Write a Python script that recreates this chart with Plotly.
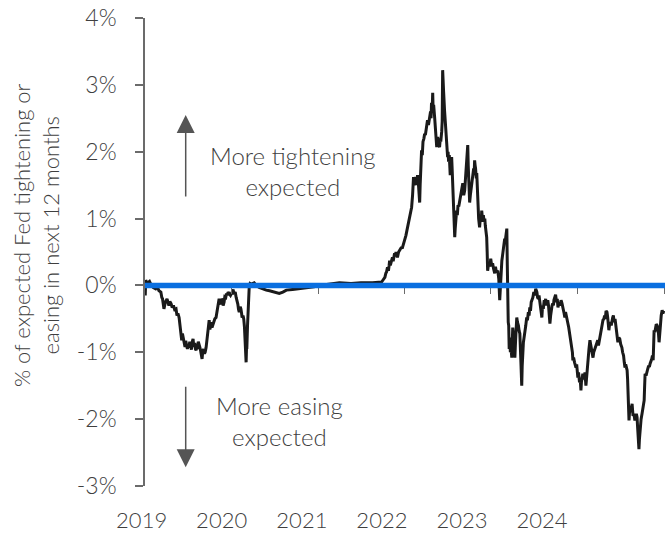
import plotly.graph_objects as go

# Market-implied Fed policy path: % of tightening (+) / easing (-) priced over the next 12 months
path_2019 = [
    ("2019-01-02", -0.15), ("2019-01-04", 0.08), ("2019-01-10", 0.03), ("2019-01-20", 0.06), ("2019-01-28", 0.00),
    ("2019-02-05", -0.03), ("2019-02-15", -0.05), ("2019-02-22", -0.02), ("2019-03-01", -0.08), ("2019-03-09", -0.10),
    ("2019-03-13", -0.18), ("2019-03-16", -0.20), ("2019-03-22", -0.35), ("2019-03-25", -0.30), ("2019-03-28", -0.25),
    ("2019-04-04", -0.20), ("2019-04-08", -0.26), ("2019-04-12", -0.30), ("2019-04-16", -0.24), ("2019-04-21", -0.27),
    ("2019-04-26", -0.33), ("2019-05-01", -0.30), ("2019-05-06", -0.36), ("2019-05-12", -0.35), ("2019-05-16", -0.45),
    ("2019-05-20", -0.42), ("2019-05-25", -0.48), ("2019-05-29", -0.60), ("2019-06-02", -0.78), ("2019-06-05", -0.82),
    ("2019-06-08", -0.72), ("2019-06-12", -0.80), ("2019-06-15", -0.87), ("2019-06-19", -0.92), ("2019-06-22", -0.83),
    ("2019-06-25", -0.90), ("2019-06-29", -0.95), ("2019-07-02", -0.88), ("2019-07-06", -0.93), ("2019-07-09", -0.84),
    ("2019-07-12", -0.88), ("2019-07-16", -0.96), ("2019-07-19", -0.85), ("2019-07-23", -0.80), ("2019-07-26", -0.92),
    ("2019-07-30", -0.86), ("2019-08-02", -0.95), ("2019-08-05", -0.97), ("2019-08-08", -0.90), ("2019-08-10", -0.95),
    ("2019-08-14", -0.84), ("2019-08-17", -0.87), ("2019-08-21", -0.93), ("2019-08-24", -0.98), ("2019-08-27", -1.03),
    ("2019-08-30", -1.10), ("2019-09-02", -0.98), ("2019-09-05", -0.95), ("2019-09-09", -1.02), ("2019-09-12", -1.00),
    ("2019-09-16", -0.93), ("2019-09-20", -0.78), ("2019-09-23", -0.66), ("2019-09-25", -0.60), ("2019-09-29", -0.52),
    ("2019-10-02", -0.66), ("2019-10-05", -0.60), ("2019-10-08", -0.55), ("2019-10-11", -0.63), ("2019-10-15", -0.58),
    ("2019-10-18", -0.55), ("2019-10-23", -0.50), ("2019-10-28", -0.48), ("2019-11-01", -0.38), ("2019-11-04", -0.32),
    ("2019-11-07", -0.25), ("2019-11-10", -0.20), ("2019-11-14", -0.26), ("2019-11-18", -0.28), ("2019-11-21", -0.20),
    ("2019-11-24", -0.22), ("2019-11-27", -0.30), ("2019-12-01", -0.25), ("2019-12-04", -0.17), ("2019-12-08", -0.18),
    ("2019-12-11", -0.12), ("2019-12-14", -0.15), ("2019-12-18", -0.10), ("2019-12-22", -0.12), ("2019-12-28", -0.15),
]

path_2020 = [
    ("2020-01-04", -0.10), ("2020-01-08", -0.06), ("2020-01-12", -0.13), ("2020-01-17", -0.10), ("2020-01-21", -0.18),
    ("2020-01-25", -0.22), ("2020-01-28", -0.28), ("2020-01-31", -0.36), ("2020-02-03", -0.40), ("2020-02-07", -0.32),
    ("2020-02-10", -0.35), ("2020-02-13", -0.42), ("2020-02-15", -0.48), ("2020-02-19", -0.45), ("2020-02-22", -0.50),
    ("2020-02-25", -0.62), ("2020-02-27", -0.75), ("2020-03-01", -0.95), ("2020-03-03", -1.15), ("2020-03-05", -0.90),
    ("2020-03-06", -0.95), ("2020-03-09", -0.60), ("2020-03-12", -0.30), ("2020-03-16", -0.03), ("2020-03-20", 0.03),
    ("2020-03-25", 0.02), ("2020-04-06", 0.04), ("2020-04-15", 0.00), ("2020-04-27", -0.03), ("2020-05-10", -0.05),
    ("2020-05-27", -0.07), ("2020-06-10", -0.08), ("2020-06-21", -0.09), ("2020-07-05", -0.11), ("2020-07-21", -0.12),
    ("2020-08-05", -0.10), ("2020-08-20", -0.07), ("2020-09-15", -0.06), ("2020-10-14", -0.05), ("2020-11-12", -0.03),
    ("2020-12-15", -0.02),
]

path_2021 = [
    ("2021-01-06", 0.00), ("2021-02-15", 0.02), ("2021-04-01", 0.04), ("2021-05-20", 0.03), ("2021-07-01", 0.04),
    ("2021-08-19", 0.04), ("2021-09-17", 0.04), ("2021-09-26", 0.05), ("2021-09-30", 0.07), ("2021-10-05", 0.10),
    ("2021-10-10", 0.12), ("2021-10-14", 0.18), ("2021-10-17", 0.20), ("2021-10-21", 0.27), ("2021-10-25", 0.22),
    ("2021-10-28", 0.30), ("2021-10-30", 0.37), ("2021-11-02", 0.30), ("2021-11-05", 0.33), ("2021-11-08", 0.38),
    ("2021-11-11", 0.42), ("2021-11-14", 0.36), ("2021-11-16", 0.40), ("2021-11-20", 0.48), ("2021-11-23", 0.44),
    ("2021-11-26", 0.50), ("2021-11-29", 0.45), ("2021-12-02", 0.42), ("2021-12-07", 0.50), ("2021-12-11", 0.52),
    ("2021-12-15", 0.55), ("2021-12-19", 0.57), ("2021-12-22", 0.55), ("2021-12-26", 0.60),
]

path_2022 = [
    ("2022-01-01", 0.64), ("2022-01-04", 0.70), ("2022-01-07", 0.75), ("2022-01-11", 0.82), ("2022-01-14", 0.87),
    ("2022-01-18", 0.95), ("2022-01-22", 1.00), ("2022-01-26", 1.08), ("2022-01-31", 1.17), ("2022-02-04", 1.35),
    ("2022-02-08", 1.62), ("2022-02-11", 1.50), ("2022-02-14", 1.55), ("2022-02-17", 1.62), ("2022-02-21", 1.50),
    ("2022-02-25", 1.65), ("2022-03-01", 1.50), ("2022-03-03", 1.40), ("2022-03-06", 1.24), ("2022-03-08", 1.50),
    ("2022-03-10", 1.70), ("2022-03-14", 2.02), ("2022-03-17", 1.95), ("2022-03-20", 2.15), ("2022-03-24", 2.20),
    ("2022-03-27", 2.27), ("2022-03-30", 2.25), ("2022-04-02", 2.35), ("2022-04-05", 2.42), ("2022-04-08", 2.47),
    ("2022-04-12", 2.40), ("2022-04-15", 2.50), ("2022-04-17", 2.55), ("2022-04-21", 2.60), ("2022-04-23", 2.50),
    ("2022-04-25", 2.73), ("2022-04-28", 2.65), ("2022-04-30", 2.88), ("2022-05-02", 2.60), ("2022-05-04", 2.70),
    ("2022-05-08", 2.52), ("2022-05-11", 2.40), ("2022-05-13", 2.30), ("2022-05-17", 2.07), ("2022-05-19", 2.15),
    ("2022-05-21", 2.22), ("2022-05-25", 2.10), ("2022-05-29", 2.07), ("2022-06-01", 2.20), ("2022-06-03", 2.15),
    ("2022-06-07", 2.30), ("2022-06-09", 2.45), ("2022-06-11", 3.22), ("2022-06-13", 2.95), ("2022-06-15", 2.90),
    ("2022-06-19", 2.62), ("2022-06-21", 2.50), ("2022-06-24", 2.35), ("2022-06-28", 2.17), ("2022-07-02", 1.92),
    ("2022-07-04", 2.00), ("2022-07-06", 1.85), ("2022-07-09", 1.95), ("2022-07-11", 1.77), ("2022-07-13", 1.65),
    ("2022-07-15", 1.85), ("2022-07-19", 1.92), ("2022-07-21", 1.75), ("2022-07-23", 1.57), ("2022-07-27", 1.20),
    ("2022-07-30", 0.90), ("2022-08-01", 0.72), ("2022-08-03", 0.85), ("2022-08-05", 0.95), ("2022-08-09", 1.12),
    ("2022-08-12", 1.05), ("2022-08-15", 1.20), ("2022-08-18", 1.18), ("2022-08-22", 1.27), ("2022-08-25", 1.35),
    ("2022-08-28", 1.40), ("2022-09-01", 1.48), ("2022-09-04", 1.53), ("2022-09-06", 1.40), ("2022-09-08", 1.35),
    ("2022-09-12", 1.42), ("2022-09-15", 1.55), ("2022-09-18", 1.70), ("2022-09-22", 1.85), ("2022-09-25", 2.10),
    ("2022-09-27", 1.80), ("2022-09-29", 1.60), ("2022-10-03", 1.24), ("2022-10-06", 1.35), ("2022-10-10", 1.45),
    ("2022-10-13", 1.50), ("2022-10-16", 1.57), ("2022-10-18", 1.70), ("2022-10-20", 1.75), ("2022-10-22", 1.65),
    ("2022-10-24", 1.87), ("2022-10-26", 1.80), ("2022-10-28", 1.75), ("2022-10-31", 1.60), ("2022-11-02", 1.68),
    ("2022-11-04", 1.45), ("2022-11-06", 1.27), ("2022-11-08", 1.10), ("2022-11-10", 1.00), ("2022-11-14", 0.87),
    ("2022-11-16", 0.98), ("2022-11-18", 1.05), ("2022-11-21", 0.95), ("2022-11-23", 1.12), ("2022-11-26", 1.00),
    ("2022-11-30", 1.05), ("2022-12-03", 0.95), ("2022-12-06", 1.00), ("2022-12-08", 0.90), ("2022-12-10", 0.85),
    ("2022-12-12", 0.80), ("2022-12-14", 0.72), ("2022-12-16", 0.50), ("2022-12-18", 0.22), ("2022-12-21", 0.30),
    ("2022-12-24", 0.35), ("2022-12-28", 0.28), ("2022-12-31", 0.40),
]

path_2023 = [
    ("2023-01-04", 0.30), ("2023-01-08", 0.33), ("2023-01-12", 0.25), ("2023-01-17", 0.18), ("2023-01-20", 0.28),
    ("2023-01-24", 0.20), ("2023-01-30", 0.22), ("2023-02-03", 0.10), ("2023-02-07", -0.22), ("2023-02-10", 0.05),
    ("2023-02-12", 0.15), ("2023-02-16", 0.37), ("2023-02-19", 0.45), ("2023-02-22", 0.55), ("2023-02-25", 0.62),
    ("2023-02-28", 0.70), ("2023-03-02", 0.65), ("2023-03-04", 0.75), ("2023-03-07", 0.80), ("2023-03-09", 0.85),
    ("2023-03-11", 0.30), ("2023-03-13", -0.37), ("2023-03-15", -0.55), ("2023-03-17", -0.60), ("2023-03-19", -0.95),
    ("2023-03-21", -0.78), ("2023-03-24", -1.00), ("2023-03-26", -0.90), ("2023-03-30", -1.08), ("2023-04-01", -0.80),
    ("2023-04-03", -0.63), ("2023-04-06", -0.75), ("2023-04-08", -0.85), ("2023-04-10", -0.70), ("2023-04-12", -1.08),
    ("2023-04-14", -0.90), ("2023-04-16", -0.75), ("2023-04-20", -0.48), ("2023-04-23", -0.55), ("2023-04-27", -0.60),
    ("2023-04-30", -0.68), ("2023-05-03", -0.72), ("2023-05-07", -1.10), ("2023-05-11", -1.50), ("2023-05-13", -1.20),
    ("2023-05-15", -0.93), ("2023-05-18", -0.85), ("2023-05-20", -0.80), ("2023-05-24", -0.72), ("2023-05-28", -0.60),
    ("2023-06-01", -0.48), ("2023-06-04", -0.52), ("2023-06-08", -0.40), ("2023-06-11", -0.45), ("2023-06-14", -0.33),
    ("2023-06-17", -0.38), ("2023-06-20", -0.25), ("2023-06-24", -0.22), ("2023-06-27", -0.18), ("2023-07-01", -0.10),
    ("2023-07-05", -0.15), ("2023-07-09", -0.05), ("2023-07-14", -0.10), ("2023-07-17", -0.18), ("2023-07-20", -0.20),
    ("2023-07-23", -0.15), ("2023-07-26", -0.27), ("2023-07-29", -0.30), ("2023-08-01", -0.40), ("2023-08-04", -0.48),
    ("2023-08-07", -0.30), ("2023-08-10", -0.35), ("2023-08-14", -0.22), ("2023-08-17", -0.27), ("2023-08-20", -0.20),
    ("2023-08-23", -0.30), ("2023-08-26", -0.25), ("2023-08-29", -0.22), ("2023-09-01", -0.30), ("2023-09-03", -0.40),
    ("2023-09-07", -0.57), ("2023-09-10", -0.45), ("2023-09-13", -0.35), ("2023-09-16", -0.30), ("2023-09-19", -0.27),
    ("2023-09-22", -0.30), ("2023-09-24", -0.22), ("2023-09-28", -0.18), ("2023-10-01", -0.14), ("2023-10-05", -0.25),
    ("2023-10-08", -0.20), ("2023-10-11", -0.33), ("2023-10-15", -0.25), ("2023-10-20", -0.30), ("2023-10-24", -0.22),
    ("2023-10-28", -0.27), ("2023-11-01", -0.32), ("2023-11-03", -0.38), ("2023-11-06", -0.42), ("2023-11-09", -0.48),
    ("2023-11-12", -0.40), ("2023-11-15", -0.45), ("2023-11-19", -0.50), ("2023-11-22", -0.57), ("2023-11-25", -0.62),
    ("2023-11-28", -0.70), ("2023-12-01", -0.78), ("2023-12-04", -0.80), ("2023-12-07", -0.88), ("2023-12-09", -0.93),
    ("2023-12-11", -1.00), ("2023-12-13", -1.12), ("2023-12-16", -1.08), ("2023-12-20", -1.15), ("2023-12-23", -1.20),
    ("2023-12-26", -1.23), ("2023-12-29", -1.18),
]

path_2024 = [
    ("2024-01-03", -1.38), ("2024-01-06", -1.30), ("2024-01-10", -1.45), ("2024-01-13", -1.40), ("2024-01-16", -1.57),
    ("2024-01-18", -1.45), ("2024-01-20", -1.40), ("2024-01-24", -1.32), ("2024-01-27", -1.38), ("2024-01-30", -1.40),
    ("2024-02-02", -1.30), ("2024-02-06", -1.50), ("2024-02-08", -1.42), ("2024-02-10", -1.30), ("2024-02-13", -1.20),
    ("2024-02-15", -1.08), ("2024-02-19", -0.95), ("2024-02-23", -0.82), ("2024-02-26", -0.88), ("2024-03-02", -0.93),
    ("2024-03-05", -0.98), ("2024-03-07", -1.08), ("2024-03-10", -1.00), ("2024-03-15", -0.95), ("2024-03-19", -0.88),
    ("2024-03-24", -0.85), ("2024-03-27", -0.82), ("2024-03-30", -0.90), ("2024-04-02", -0.85), ("2024-04-05", -0.80),
    ("2024-04-09", -0.72), ("2024-04-12", -0.65), ("2024-04-15", -0.58), ("2024-04-18", -0.52), ("2024-04-22", -0.50),
    ("2024-04-25", -0.45), ("2024-04-28", -0.50), ("2024-05-01", -0.38), ("2024-05-05", -0.40), ("2024-05-08", -0.48),
    ("2024-05-10", -0.55), ("2024-05-13", -0.67), ("2024-05-16", -0.58), ("2024-05-20", -0.55), ("2024-05-23", -0.60),
    ("2024-05-26", -0.52), ("2024-05-29", -0.48), ("2024-06-01", -0.45), ("2024-06-04", -0.55), ("2024-06-08", -0.50),
    ("2024-06-11", -0.60), ("2024-06-14", -0.70), ("2024-06-17", -0.75), ("2024-06-20", -0.85), ("2024-06-24", -0.78),
    ("2024-06-28", -0.80), ("2024-07-02", -0.88), ("2024-07-07", -0.93), ("2024-07-10", -1.00), ("2024-07-14", -1.05),
    ("2024-07-17", -1.15), ("2024-07-20", -1.23), ("2024-07-23", -1.18), ("2024-07-25", -1.20), ("2024-07-29", -1.27),
    ("2024-07-31", -1.40), ("2024-08-02", -1.60), ("2024-08-04", -1.85), ("2024-08-06", -2.02), ("2024-08-09", -1.85),
    ("2024-08-12", -1.80), ("2024-08-15", -1.90), ("2024-08-19", -1.77), ("2024-08-23", -1.95), ("2024-08-27", -1.92),
    ("2024-08-30", -2.00), ("2024-09-03", -2.00), ("2024-09-06", -1.92), ("2024-09-09", -1.97), ("2024-09-11", -2.10),
    ("2024-09-13", -2.20), ("2024-09-15", -2.35), ("2024-09-17", -2.45), ("2024-09-19", -2.30), ("2024-09-22", -2.15),
    ("2024-09-26", -2.00), ("2024-09-30", -1.92), ("2024-10-03", -1.85), ("2024-10-05", -1.80), ("2024-10-09", -1.72),
    ("2024-10-11", -1.50), ("2024-10-13", -1.32), ("2024-10-17", -1.35), ("2024-10-21", -1.27), ("2024-10-24", -1.25),
    ("2024-10-28", -1.20), ("2024-10-31", -1.22), ("2024-11-03", -1.17), ("2024-11-06", -1.15), ("2024-11-10", -1.10),
    ("2024-11-13", -1.05), ("2024-11-16", -1.12), ("2024-11-18", -0.90), ("2024-11-20", -0.67), ("2024-11-23", -0.70),
    ("2024-11-26", -0.62), ("2024-11-29", -0.58), ("2024-12-03", -0.60), ("2024-12-06", -0.65), ("2024-12-08", -0.70),
    ("2024-12-11", -0.85), ("2024-12-14", -0.70), ("2024-12-17", -0.60), ("2024-12-20", -0.45), ("2024-12-24", -0.37),
    ("2024-12-27", -0.42), ("2024-12-31", -0.38),
]

# Axis ticks and labels
y_ticks = [-3, -2, -1, 0, 1, 2, 3, 4]
y_tick_text = ["-3%", "-2%", "-1%", "0%", "1%", "2%", "3%", "4%"]
year_starts = ["2020-01-01", "2021-01-01", "2022-01-01", "2023-01-01", "2024-01-01", "2025-01-01"]
year_label_dates = ["2018-12-17", "2019-11-20", "2020-10-24", "2021-09-27", "2022-08-31", "2023-08-04"]
year_labels = ["2019", "2020", "2021", "2022", "2023", "2024"]

x_range = ["2019-01-01", "2025-01-05"]
label_range = ["2018-11-19", "2025-01-05"]   # same scale, widened 10px to the left
y_range = [-3, 4]

series = path_2019 + path_2020 + path_2021 + path_2022 + path_2023 + path_2024
obs_dates = [d for d, _ in series]
obs_values = [v for _, v in series]

FONT = "Lato Light, Lato"
TEXT = "#3f3f3f"
AXIS = "#6b6b6b"
X_DOMAIN = [10 / 530, 1.0]
Y_DOMAIN = [0.039, 1.0]
zero_pos = Y_DOMAIN[0] + (Y_DOMAIN[1] - Y_DOMAIN[0]) * (0 - y_range[0]) / (y_range[1] - y_range[0])


def px_x(px):
    """Paper x for a pixel column (plot area starts at 135px, 530px wide)."""
    return (px - 135) / 530


fig = go.Figure()
fig.add_trace(go.Scatter(
    x=obs_dates, y=obs_values, mode="lines",
    line=dict(color="#1a1a1a", width=3),
    hoverinfo="skip", showlegend=False,
))

fig.update_layout(
    width=665, height=536,
    margin=dict(l=135, r=0, t=18, b=31),
    paper_bgcolor="white", plot_bgcolor="rgba(0,0,0,0)",
    font=dict(family=FONT, color=TEXT),
    showlegend=False,
    xaxis=dict(
        type="date", range=x_range, domain=X_DOMAIN,
        anchor="free", position=zero_pos,
        showline=False, showgrid=False, zeroline=False,
        tickmode="array", tickvals=year_starts,
        ticks="outside", ticklen=8, tickwidth=1, tickcolor=AXIS,
        showticklabels=False,
    ),
    xaxis2=dict(
        type="date", range=label_range, domain=[0, 1],
        anchor="free", position=0,
        showline=False, showgrid=False, zeroline=False,
        tickmode="array", tickvals=year_label_dates, ticktext=year_labels,
        ticks="", tickfont=dict(size=22, color=TEXT, family=FONT),
    ),
    yaxis=dict(
        range=y_range, domain=Y_DOMAIN, anchor="x",
        showline=True, linecolor=AXIS, linewidth=1.5,
        showgrid=False, zeroline=False,
        tickmode="array", tickvals=y_ticks, ticktext=y_tick_text,
        ticks="outside", ticklen=8, tickwidth=1.5, tickcolor=AXIS,
        ticklabelstandoff=14,
        tickfont=dict(size=23, color=TEXT, family=FONT),
    ),
)

# Invisible companion so the year-label axis is rendered
fig.add_trace(go.Scatter(
    x=obs_dates[:1], y=obs_values[:1], xaxis="x2", mode="markers",
    marker=dict(opacity=0), hoverinfo="skip", showlegend=False,
))

# Zero reference line
fig.add_shape(
    type="line", xref="x", yref="y", x0=x_range[0], x1=x_range[1], y0=0, y1=0,
    line=dict(color="#0a6fe0", width=5.5), layer="above",
)

# Axis title
fig.add_annotation(
    xref="paper", yref="paper", x=px_x(36), xanchor="center",
    y=(505 - 235) / 487, yanchor="middle",
    text="% of expected Fed tightening or<br>easing in next 12 months",
    textangle=-90, showarrow=False,
    font=dict(size=22, color=TEXT, family=FONT),
    align="center",
)

# Direction notes
fig.add_annotation(
    xref="paper", yref="y", x=px_x(293), xanchor="center", y=1.71, yanchor="middle",
    text="More tightening<br>expected", showarrow=False,
    font=dict(size=24, color=TEXT, family=FONT), align="center",
)
fig.add_annotation(
    xref="paper", yref="y", x=px_x(279.5), xanchor="center", y=-2.03, yanchor="middle",
    text="More easing<br>expected", showarrow=False,
    font=dict(size=24, color=TEXT, family=FONT), align="center",
)

# Direction arrows
fig.add_annotation(
    xref="paper", yref="y", x=px_x(185.7), y=2.55, ax=0, ay=83,
    axref="pixel", ayref="pixel", text="", showarrow=True,
    arrowhead=2, arrowsize=2.4, arrowwidth=1.5, arrowcolor="#555555",
)
fig.add_annotation(
    xref="paper", yref="y", x=px_x(185.7), y=-2.72, ax=0, ay=-82,
    axref="pixel", ayref="pixel", text="", showarrow=True,
    arrowhead=2, arrowsize=2.4, arrowwidth=1.5, arrowcolor="#555555",
)

fig.write_html("out.html")
